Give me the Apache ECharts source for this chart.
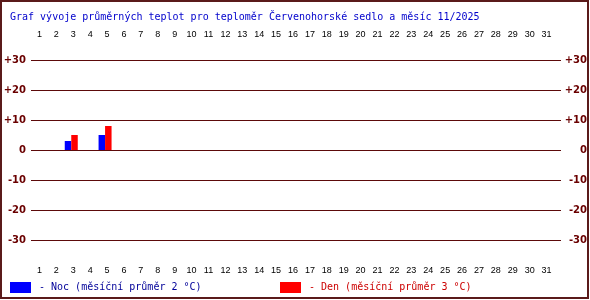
<!DOCTYPE html>
<html>
<head>
<meta charset="utf-8">
<script src="https://cdn.jsdelivr.net/npm/echarts@6/dist/echarts.min.js"></script>
<style>html,body{margin:0;padding:0;background:#fff}#c{width:590px;height:300px}</style>
</head>
<body>
<div id="c"></div>
<script>
const titleText = 'Graf vývoje průměrných teplot pro teploměr Červenohorské sedlo a měsíc 11/2025';
const days = ['1','2','3','4','5','6','7','8','9','10','11','12','13','14','15','16','17','18','19','20','21','22','23','24','25','26','27','28','29','30','31'];
const nocValues = [null,null,3,null,5,null,null,null,null,null,null,null,null,null,null,null,null,null,null,null,null,null,null,null,null,null,null,null,null,null,null];
const denValues = [null,null,5,null,8,null,null,null,null,null,null,null,null,null,null,null,null,null,null,null,null,null,null,null,null,null,null,null,null,null,null];
const nocAvg = 2;
const denAvg = 3;
const yTicks = [-30,-20,-10,0,10,20,30];

const maroon = '#5c0a0a';
const mono = 'DejaVu Sans Mono';
const yLabel = {
  color: '#6a0000', fontFamily: 'DejaVu Sans', fontWeight: 'bold', fontSize: 10,
  formatter: v => (v > 0 ? '+' + v : String(v))
};
const dayLabel = {color: '#000', fontFamily: 'Liberation Sans', fontSize: 9, interval: 0};

const chart = echarts.init(document.getElementById('c'));
chart.setOption({
  animation: false,
  backgroundColor: '#fff',
  title: {text: titleText, left: 5, top: 7, textStyle: {fontFamily: mono, fontSize: 10, fontWeight: 'normal', color: '#0000cc'}},
  legend: [
    {data: ['Noc'], left: 10, top: 282, padding: 0, itemWidth: 21, itemHeight: 11, icon: 'rect',
     formatter: () => '{t|- Noc (měsíční průměr ' + nocAvg + ' °C)}',
     textStyle: {fontFamily: mono, fontSize: 10, color: '#000099', rich: {t: {fontFamily: mono, fontSize: 10, color: '#000099', padding: [0, 0, 0, 3]}}}},
    {data: ['Den'], left: 280, top: 282, padding: 0, itemWidth: 21, itemHeight: 11, icon: 'rect',
     formatter: () => '{t|- Den (měsíční průměr ' + denAvg + ' °C)}',
     textStyle: {fontFamily: mono, fontSize: 10, color: '#cc0000', rich: {t: {fontFamily: mono, fontSize: 10, color: '#cc0000', padding: [0, 0, 0, 3]}}}}
  ],
  grid: [
    {left: 31, right: 29, top: 60, bottom: 60, outerBoundsMode: 'none'},
    {left: 31, right: 35, top: 60, bottom: 60, outerBoundsMode: 'none'},
    {left: 29, right: 37, top: 60, bottom: 60, outerBoundsMode: 'none'}
  ],
  xAxis: [
    {gridIndex: 0, type: 'value', min: 0, max: 1, show: false},
    {gridIndex: 1, type: 'category', data: days, position: 'top', axisLine: {show: false}, axisTick: {show: false}, axisLabel: Object.assign({margin: 21}, dayLabel)},
    {gridIndex: 1, type: 'category', data: days, position: 'bottom', axisLine: {show: false}, axisTick: {show: false}, axisLabel: Object.assign({margin: 26}, dayLabel)},
    {gridIndex: 2, type: 'category', data: days, show: false}
  ],
  yAxis: [
    {gridIndex: 0, type: 'value', min: -30, max: 30, interval: 10, position: 'left', axisLine: {show: false}, axisTick: {show: false},
     splitLine: {show: true, lineStyle: {color: maroon, width: 1}}, axisLabel: Object.assign({margin: 5, align: 'right'}, yLabel)},
    {gridIndex: 0, type: 'value', min: -30, max: 30, interval: 10, position: 'right', axisLine: {show: false}, axisTick: {show: false},
     splitLine: {show: false}, axisLabel: Object.assign({margin: 26, align: 'right'}, yLabel)},
    {gridIndex: 1, type: 'value', min: -30, max: 30, show: false},
    {gridIndex: 2, type: 'value', min: -30, max: 30, show: false}
  ],
  series: [
    {name: 'Noc', type: 'bar', xAxisIndex: 3, yAxisIndex: 3, data: nocValues, barWidth: 6.5, barGap: '0%', itemStyle: {color: '#0000ff'}},
    {name: 'Den', type: 'bar', xAxisIndex: 3, yAxisIndex: 3, data: denValues, barWidth: 6.5, barGap: '0%', itemStyle: {color: '#ff0000'}}
  ],
  graphic: [
    {type: 'rect', shape: {x: 1, y: 1, width: 587, height: 297}, style: {fill: null, stroke: '#5a1a1a', lineWidth: 2}, z: 100}
  ]
});
</script>
</body>
</html>
